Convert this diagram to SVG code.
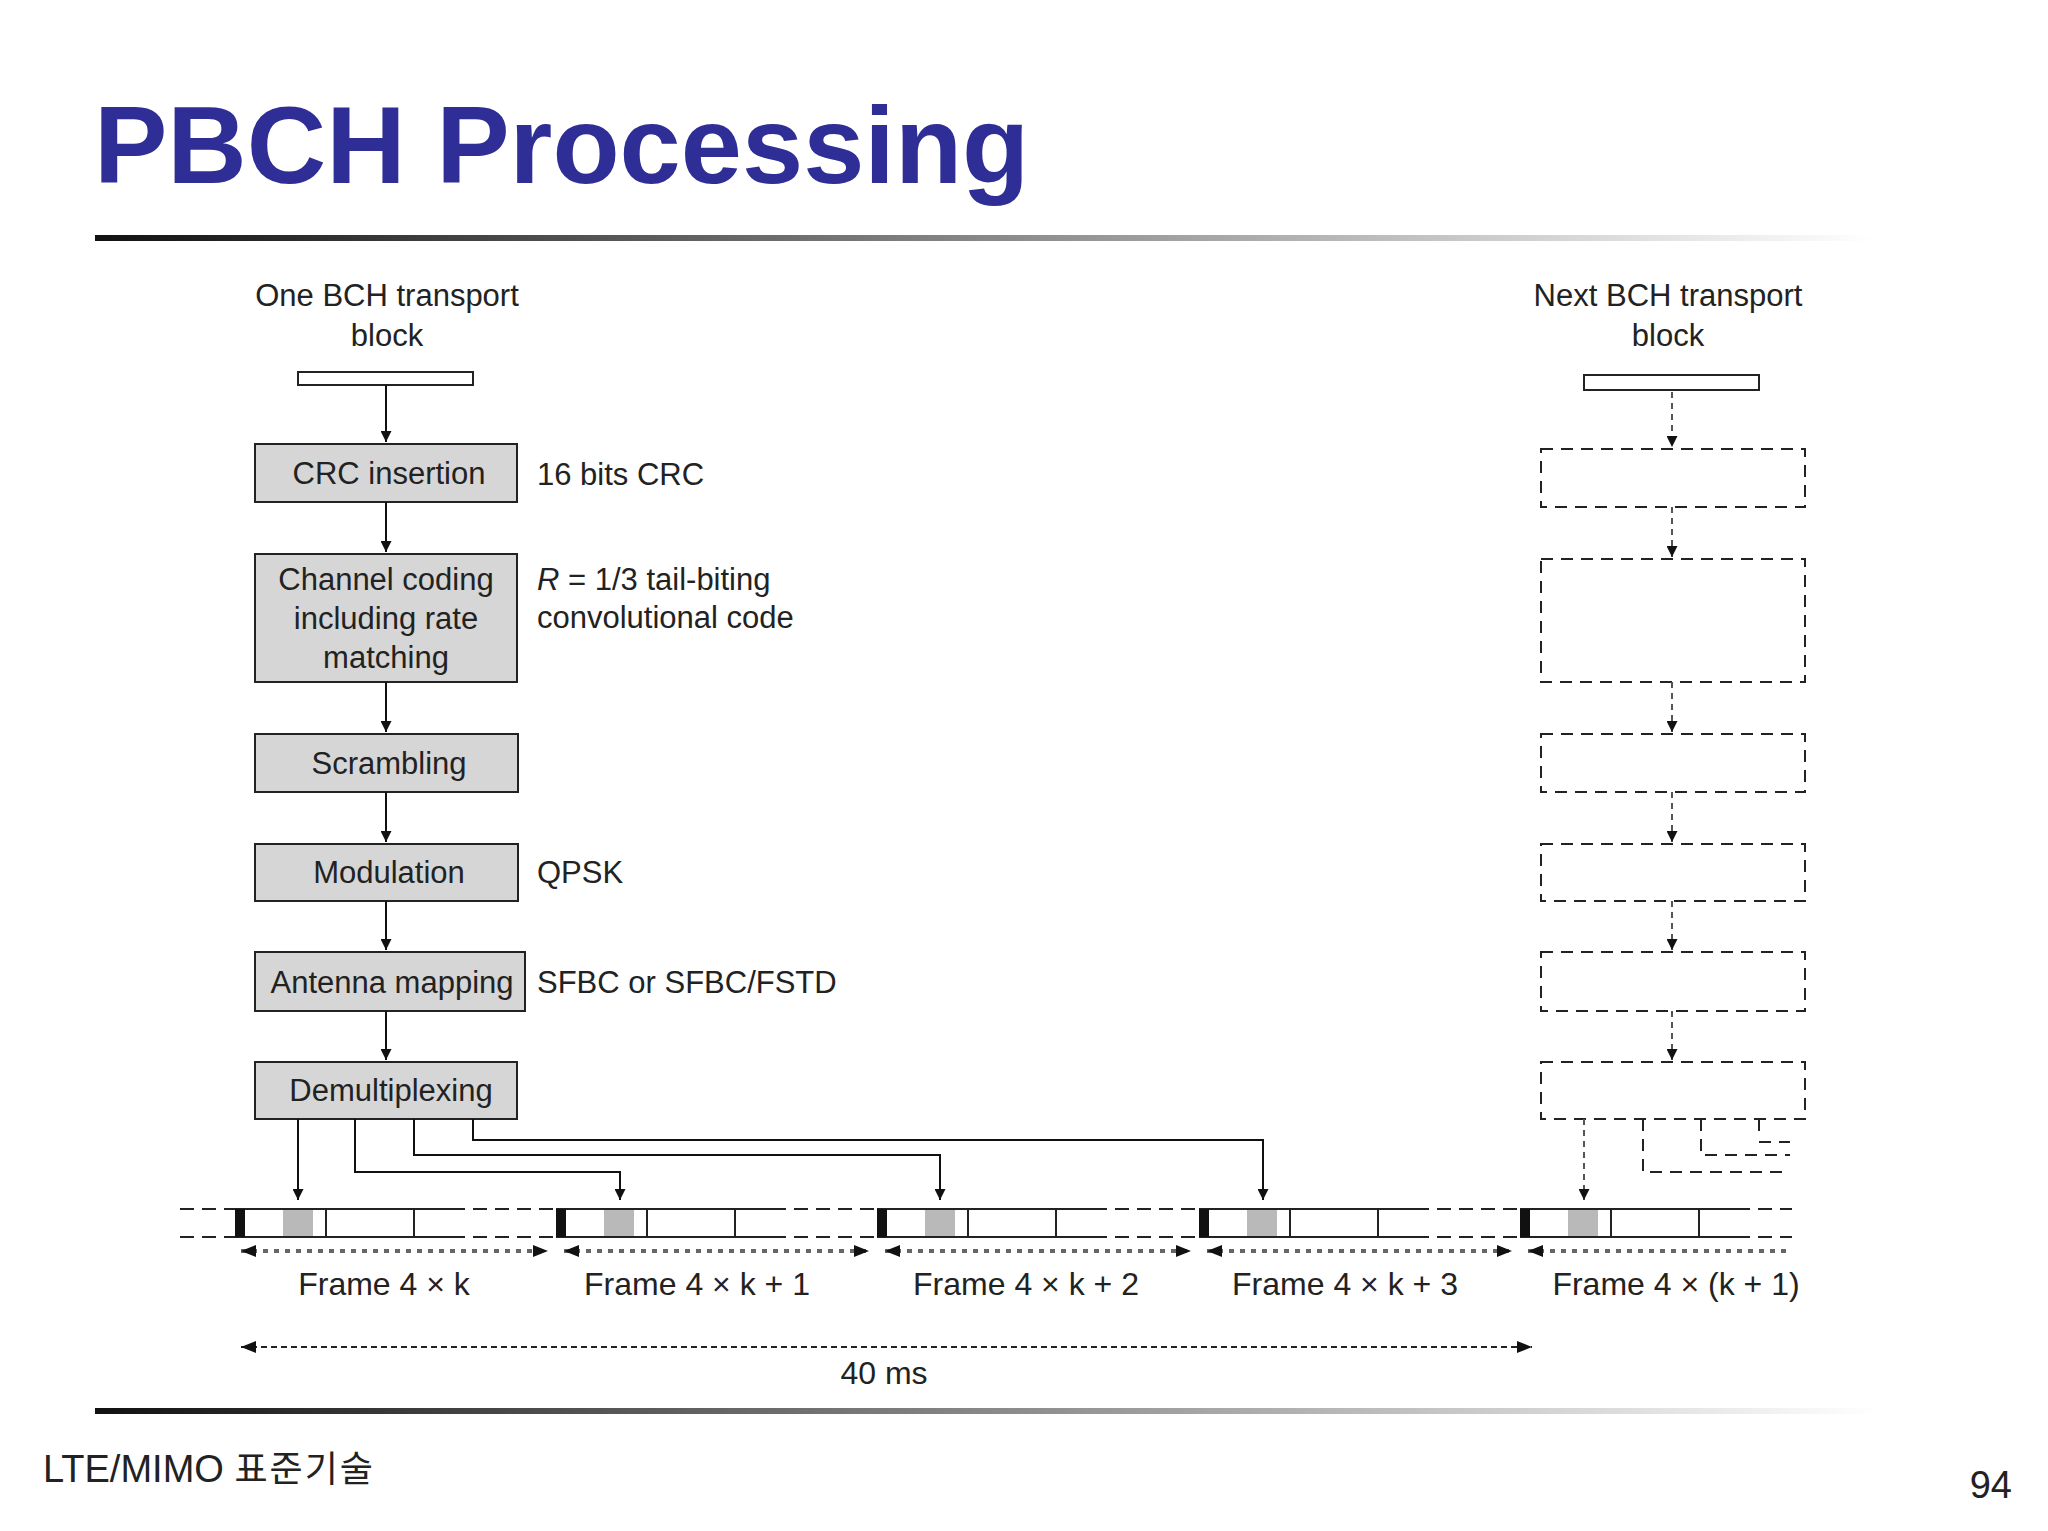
<svg xmlns="http://www.w3.org/2000/svg" width="2048" height="1531" viewBox="0 0 2048 1531">
<defs>
<linearGradient id="rule" x1="0" x2="1" y1="0" y2="0"><stop offset="0" stop-color="#111"/><stop offset="0.5" stop-color="#888"/><stop offset="1" stop-color="#fff"/></linearGradient>
<marker id="ah" viewBox="0 0 10 10" refX="10" refY="5" markerWidth="11" markerHeight="11" markerUnits="userSpaceOnUse" orient="auto"><path d="M0,0 L10,5 L0,10 z" fill="#111"/></marker>
<marker id="ah2" viewBox="0 0 10 10" refX="10" refY="5" markerWidth="15" markerHeight="15" markerUnits="userSpaceOnUse" orient="auto-start-reverse"><path d="M0,1 L10,5 L0,9 z" fill="#111"/></marker>
<style>
text{font-family:"Liberation Sans",Arial,sans-serif;fill:#222}
.b{fill:#d6d6d6;stroke:#222;stroke-width:2}
.d{fill:none;stroke:#222;stroke-width:2;stroke-dasharray:12 8}
.t{font-size:31px;text-anchor:middle}
.a{font-size:31px}
.c{fill:none;stroke:#111;stroke-width:2}
.cd{fill:none;stroke:#555;stroke-width:2;stroke-dasharray:6 5}
.fr{font-size:32px;text-anchor:middle}
.dot{fill:none;stroke:#666;stroke-width:4;stroke-dasharray:5 6}
</style>
</defs>
<rect width="2048" height="1531" fill="#fff"/>
<text x="94" y="183" font-size="110" font-weight="bold" style="fill:#2e2e96">PBCH Processing</text>
<rect x="95" y="235" width="1780" height="6" fill="url(#rule)"/>
<rect x="95" y="1408" width="1780" height="6" fill="url(#rule)"/>
<text x="43" y="1482" font-size="38" style="font-family:'Liberation Sans','Noto Sans CJK KR',sans-serif">LTE/MIMO <tspan font-size="36" letter-spacing="2">표준기술</tspan></text>
<text x="2012" y="1498" font-size="38" text-anchor="end">94</text>

<g id="left-label"><text class="t" x="387" y="306">One BCH transport</text><text class="t" x="387" y="346">block</text><rect x="298" y="372" width="175" height="13" fill="#fff" stroke="#222" stroke-width="2"/></g>
<g id="right-label"><text class="t" x="1668" y="306">Next BCH transport</text><text class="t" x="1668" y="346">block</text><rect x="1584" y="375" width="175" height="15" fill="#fff" stroke="#222" stroke-width="2"/></g>

<g id="crc"><rect class="b" x="255" y="444" width="262" height="58"/><text class="t" x="389" y="484">CRC insertion</text></g>
<g id="coding"><rect class="b" x="255" y="554" width="262" height="128"/><text class="t" x="386" y="590">Channel coding</text><text class="t" x="386" y="629">including rate</text><text class="t" x="386" y="668">matching</text></g>
<g id="scr"><rect class="b" x="255" y="734" width="263" height="58"/><text class="t" x="389" y="774">Scrambling</text></g>
<g id="mod"><rect class="b" x="255" y="844" width="263" height="57"/><text class="t" x="389" y="883">Modulation</text></g>
<g id="ant"><rect class="b" x="255" y="952" width="270" height="59"/><text class="t" x="392" y="993">Antenna mapping</text></g>
<g id="demux"><rect class="b" x="255" y="1062" width="262" height="57"/><text class="t" x="391" y="1101">Demultiplexing</text></g>

<g id="annot">
<text class="a" x="537" y="485">16 bits CRC</text>
<text class="a" x="537" y="590"><tspan font-style="italic">R</tspan> = 1/3 tail-biting</text>
<text class="a" x="537" y="628">convolutional code</text>
<text class="a" x="537" y="883">QPSK</text>
<text class="a" x="537" y="993">SFBC or SFBC/FSTD</text>
</g>

<g id="next-boxes">
<rect class="d" x="1541" y="449" width="264" height="58"/>
<rect class="d" x="1541" y="559" width="264" height="123"/>
<rect class="d" x="1541" y="734" width="264" height="58"/>
<rect class="d" x="1541" y="844" width="264" height="57"/>
<rect class="d" x="1541" y="952" width="264" height="59"/>
<rect class="d" x="1541" y="1062" width="264" height="57"/>
</g>

<g id="frames" stroke="#222" stroke-width="2" fill="none">
<path d="M180,1209 H235 M180,1237 H235" stroke-dasharray="14 8"/>
<g transform="translate(235,0)"><path d="M0,1209 H216 M0,1237 H216 M91,1209 V1237 M179,1209 V1237"/><rect x="0" y="1209" width="10" height="28" fill="#111" stroke="none"/><rect x="48" y="1210" width="30" height="26" fill="#b9b9b9" stroke="none"/><path d="M216,1209 H321 M216,1237 H321" stroke-dasharray="14 8"/></g>
<g transform="translate(556,0)"><path d="M0,1209 H216 M0,1237 H216 M91,1209 V1237 M179,1209 V1237"/><rect x="0" y="1209" width="10" height="28" fill="#111" stroke="none"/><rect x="48" y="1210" width="30" height="26" fill="#b9b9b9" stroke="none"/><path d="M216,1209 H321 M216,1237 H321" stroke-dasharray="14 8"/></g>
<g transform="translate(877,0)"><path d="M0,1209 H216 M0,1237 H216 M91,1209 V1237 M179,1209 V1237"/><rect x="0" y="1209" width="10" height="28" fill="#111" stroke="none"/><rect x="48" y="1210" width="30" height="26" fill="#b9b9b9" stroke="none"/><path d="M216,1209 H322 M216,1237 H322" stroke-dasharray="14 8"/></g>
<g transform="translate(1199,0)"><path d="M0,1209 H216 M0,1237 H216 M91,1209 V1237 M179,1209 V1237"/><rect x="0" y="1209" width="10" height="28" fill="#111" stroke="none"/><rect x="48" y="1210" width="30" height="26" fill="#b9b9b9" stroke="none"/><path d="M216,1209 H321 M216,1237 H321" stroke-dasharray="14 8"/></g>
<g transform="translate(1520,0)"><path d="M0,1209 H216 M0,1237 H216 M91,1209 V1237 M179,1209 V1237"/><rect x="0" y="1209" width="10" height="28" fill="#111" stroke="none"/><rect x="48" y="1210" width="30" height="26" fill="#b9b9b9" stroke="none"/><path d="M216,1209 H272 M216,1237 H272" stroke-dasharray="14 8"/></g>
</g>

<g id="frame-labels">
<text class="fr" x="384" y="1295">Frame  4 × k</text>
<text class="fr" x="697" y="1295">Frame 4 × k + 1</text>
<text class="fr" x="1026" y="1295">Frame 4 × k + 2</text>
<text class="fr" x="1345" y="1295">Frame 4 × k + 3</text>
<text class="fr" x="1676" y="1295">Frame 4 × (k + 1)</text>
<text class="fr" x="884" y="1384">40 ms</text>
</g>

<g id="connectors">
<path class="c" d="M386,385 V442" marker-end="url(#ah)"/>
<path class="c" d="M386,502 V552" marker-end="url(#ah)"/>
<path class="c" d="M386,682 V732" marker-end="url(#ah)"/>
<path class="c" d="M386,792 V842" marker-end="url(#ah)"/>
<path class="c" d="M386,901 V950" marker-end="url(#ah)"/>
<path class="c" d="M386,1011 V1060" marker-end="url(#ah)"/>
<path class="cd" d="M1672,392 V447" marker-end="url(#ah)"/>
<path class="cd" d="M1672,507 V557" marker-end="url(#ah)"/>
<path class="cd" d="M1672,682 V732" marker-end="url(#ah)"/>
<path class="cd" d="M1672,792 V842" marker-end="url(#ah)"/>
<path class="cd" d="M1672,901 V950" marker-end="url(#ah)"/>
<path class="cd" d="M1672,1011 V1060" marker-end="url(#ah)"/>
<path class="c" d="M298,1119 V1200" marker-end="url(#ah)"/>
<path class="c" d="M355,1119 V1172 H620 V1200" marker-end="url(#ah)"/>
<path class="c" d="M414,1119 V1155 H940 V1200" marker-end="url(#ah)"/>
<path class="c" d="M473,1119 V1140 H1263 V1200" marker-end="url(#ah)"/>
<path class="cd" d="M1584,1119 V1200" marker-end="url(#ah)"/>
<path class="d" d="M1643,1119 V1172 H1790"/>
<path class="d" d="M1701,1119 V1155 H1790"/>
<path class="d" d="M1759,1119 V1137 M1759,1142 H1790"/>
<path class="dot" d="M241,1251 H548" marker-start="url(#ah2)" marker-end="url(#ah2)"/>
<path class="dot" d="M564,1251 H869" marker-start="url(#ah2)" marker-end="url(#ah2)"/>
<path class="dot" d="M885,1251 H1191" marker-start="url(#ah2)" marker-end="url(#ah2)"/>
<path class="dot" d="M1207,1251 H1512" marker-start="url(#ah2)" marker-end="url(#ah2)"/>
<path class="dot" d="M1528,1251 H1790" marker-start="url(#ah2)"/>
<path d="M241,1347 H1532" fill="none" stroke="#222" stroke-width="2" stroke-dasharray="6 4" marker-start="url(#ah2)" marker-end="url(#ah2)"/>
</g>
</svg>
